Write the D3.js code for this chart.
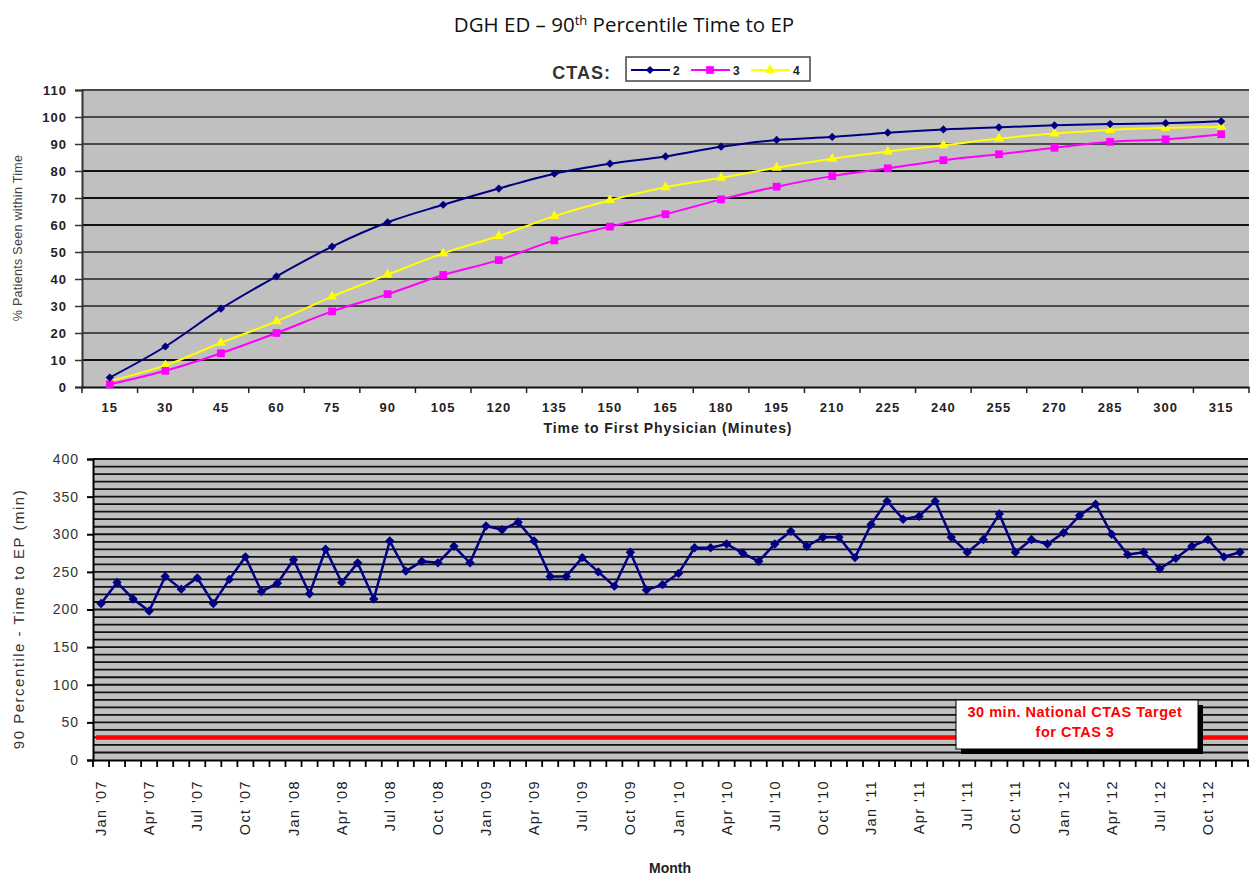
<!DOCTYPE html>
<html>
<head>
<meta charset="utf-8">
<script src="https://cdnjs.cloudflare.com/ajax/libs/d3/7.8.5/d3.min.js"></script>
<style>
    body { margin: 0; background: #fff; }
    svg { display: block; font-family: "Liberation Sans", Arial, sans-serif; }
</style>
</head>
<body>
<div id="graph"></div>
<script>
    // top chart: cumulative % seen within time, by CTAS level
    const minutes = [15, 30, 45, 60, 75, 90, 105, 120, 135, 150, 165, 180, 195, 210, 225, 240, 255, 270, 285, 300, 315];
    const ctas2 = [3.5, 15, 29, 41, 52, 61, 67.5, 73.5, 79, 82.7, 85.4, 89, 91.5, 92.6, 94.2, 95.4, 96.2, 96.9, 97.4, 97.7, 98.4];
    const ctas3 = [1, 6, 12.5, 20, 28, 34.4, 41.5, 47, 54.3, 59.4, 64, 69.5, 74.2, 78.1, 81, 84, 86.2, 88.6, 90.8, 91.7, 93.6];
    const ctas4 = [2.2, 8, 16.4, 24.3, 33.5, 41.6, 49.5, 55.9, 63.3, 69.2, 74, 77.5, 81.2, 84.5, 87.2, 89.5, 92, 93.9, 95.2, 96, 96.4];
    const pctTicks = [0, 10, 20, 30, 40, 50, 60, 70, 80, 90, 100, 110];

    // bottom chart: monthly 90th percentile time to EP
    const monthNames = ['Jan', 'Feb', 'Mar', 'Apr', 'May', 'Jun', 'Jul', 'Aug', 'Sep', 'Oct', 'Nov', 'Dec'];
    const years = ['07', '08', '09', '10', '11', '12'];
    const ep90 = [
        208, 236, 214, 198, 244, 227, 242, 208, 240, 270, 224, 235,
        266, 221, 280, 236, 262, 214, 291, 251, 264, 262, 284, 262,
        311, 306, 316, 291, 244, 244, 269, 250, 231, 276, 226, 233,
        248, 282, 282, 287, 275, 264, 287, 304, 284, 296, 296, 269,
        313, 344, 320, 324, 344, 296, 276, 293, 327, 276, 293, 287,
        302, 325, 340, 300, 273, 276, 254, 268, 284, 293, 270, 276
    ];
    const epTicks = [0, 50, 100, 150, 200, 250, 300, 350, 400];
    const epGrid = [10, 20, 30, 40, 50, 60, 70, 80, 90, 100, 110, 120, 130, 140, 150, 160, 170, 180, 190, 200,
        210, 220, 230, 240, 250, 260, 270, 280, 290, 300, 310, 320, 330, 340, 350, 360, 370, 380, 390, 400];
    const target = 30;

    const months = [];
    years.forEach(function (y) {
        monthNames.forEach(function (m) { months.push(m + " '" + y); });
    });

    const w = 1250;
    const h = 878;

    const svg = d3.select('#graph')
        .append('svg')
        .attr('width', w)
        .attr('height', h);

    // a square turned 45deg, like the spreadsheet diamond marker
    const diamond = {
        draw: function (ctx, size) {
            const r = Math.sqrt(size / 2);
            ctx.moveTo(0, -r);
            ctx.lineTo(r, 0);
            ctx.lineTo(0, r);
            ctx.lineTo(-r, 0);
            ctx.closePath();
        }
    };

    // ---------- title ----------
    const title = svg.append('text')
        .attr('x', 624)
        .attr('y', 32)
        .attr('text-anchor', 'middle')
        .style('font-family', '"Open Sans", "Liberation Sans", sans-serif')
        .style('font-size', '20.5px')
        .attr('fill', '#111');
    title.append('tspan').text('DGH ED \u2013 90');
    title.append('tspan').attr('dy', -7).style('font-size', '13px').text('th');
    title.append('tspan').attr('dy', 7).text(' Percentile Time to EP');

    // ---------- top chart ----------
    const upper = { left: 82, right: 1249, top: 90, bottom: 387 };

    const xTop = d3.scaleBand()
        .domain(minutes)
        .range([upper.left, upper.right]);

    const yTop = d3.scaleLinear()
        .domain([0, 110])
        .range([upper.bottom, upper.top]);

    svg.append('rect')
        .attr('x', upper.left)
        .attr('y', upper.top)
        .attr('width', upper.right - upper.left)
        .attr('height', upper.bottom - upper.top)
        .attr('fill', '#c0c0c0');

    svg.append('g')
        .selectAll('line')
        .data(pctTicks.slice(1))
        .enter()
        .append('line')
        .attr('x1', upper.left)
        .attr('x2', upper.right)
        .attr('y1', (d) => yTop(d))
        .attr('y2', (d) => yTop(d))
        .attr('stroke', (d) => (d == 10 || (d >= 60 && d <= 80)) ? '#111' : '#4a4a4a')
        .attr('stroke-width', 1.8);

    const yAxisTop = d3.axisLeft(yTop)
        .tickValues(pctTicks)
        .tickSize(7)
        .tickPadding(8);

    const gyTop = svg.append('g')
        .attr('transform', 'translate(' + upper.left + ',0)')
        .call(yAxisTop);
    gyTop.select('.domain').attr('stroke', '#333').attr('stroke-width', 2);
    gyTop.selectAll('.tick line').attr('stroke', '#333').attr('stroke-width', 1.5);
    gyTop.selectAll('.tick text')
        .style('font-size', '13px')
        .style('font-weight', 'bold')
        .style('letter-spacing', '1px')
        .attr('fill', '#222');

    const xAxisTop = d3.axisBottom(xTop)
        .tickSize(0)
        .tickPadding(16);

    const gxTop = svg.append('g')
        .attr('transform', 'translate(0,' + upper.bottom + ')')
        .call(xAxisTop);
    gxTop.select('.domain').attr('stroke', '#111').attr('stroke-width', 2);
    gxTop.selectAll('.tick text')
        .style('font-size', '13px')
        .style('font-weight', 'bold')
        .style('letter-spacing', '1px')
        .attr('fill', '#222');

    svg.append('g')
        .selectAll('line')
        .data(minutes.map((d) => xTop(d)).concat([upper.right]))
        .enter()
        .append('line')
        .attr('x1', (d) => d)
        .attr('x2', (d) => d)
        .attr('y1', upper.bottom)
        .attr('y2', upper.bottom + 6)
        .attr('stroke', '#222')
        .attr('stroke-width', 1.5);

    const series = [
        { name: '2', values: ctas2, color: '#000080', symbol: diamond, size: 34 },
        { name: '3', values: ctas3, color: '#ff00ff', symbol: d3.symbolSquare, size: 60 },
        { name: '4', values: ctas4, color: '#ffff00', symbol: d3.symbolTriangle, size: 45 }
    ];

    const lineTop = d3.line()
        .x((d, i) => xTop(minutes[i]) + xTop.bandwidth() / 2)
        .y((d) => yTop(d))
        .curve(d3.curveMonotoneX);

    series.slice().reverse().forEach(function (s) {
        svg.append('path')
            .datum(s.values)
            .attr('fill', 'none')
            .attr('stroke', s.color)
            .attr('stroke-width', 2)
            .attr('d', lineTop);

        svg.append('g')
            .selectAll('path')
            .data(s.values)
            .enter()
            .append('path')
            .attr('transform', (d, i) => 'translate(' + (xTop(minutes[i]) + xTop.bandwidth() / 2) + ',' + yTop(d) + ')')
            .attr('d', d3.symbol().type(s.symbol).size(s.size))
            .attr('fill', s.color);
    });

    svg.append('text')
        .attr('x', 668)
        .attr('y', 433)
        .attr('text-anchor', 'middle')
        .style('font-size', '14px')
        .style('font-weight', 'bold')
        .style('letter-spacing', '0.9px')
        .attr('fill', '#222')
        .text('Time to First Physician (Minutes)');

    svg.append('text')
        .attr('transform', 'translate(22,238) rotate(-90)')
        .attr('text-anchor', 'middle')
        .style('font-size', '12.5px')
        .style('letter-spacing', '0.3px')
        .attr('fill', '#444')
        .text('% Patients Seen within Time');

    // legend
    svg.append('text')
        .attr('x', 611)
        .attr('y', 79)
        .attr('text-anchor', 'end')
        .style('font-size', '18px')
        .style('font-weight', 'bold')
        .style('letter-spacing', '1px')
        .attr('fill', '#333')
        .text('CTAS:');

    svg.append('rect')
        .attr('x', 626)
        .attr('y', 57)
        .attr('width', 184)
        .attr('height', 24)
        .attr('fill', '#fff')
        .attr('stroke', '#444')
        .attr('stroke-width', 1.5);

    const legend = svg.selectAll('.legend')
        .data(series)
        .enter()
        .append('g')
        .attr('class', 'legend')
        .attr('transform', (d, i) => 'translate(' + (631 + i * 60) + ',70)');

    legend.append('line')
        .attr('x1', 0)
        .attr('x2', 39)
        .attr('stroke', (d) => d.color)
        .attr('stroke-width', 2);

    legend.append('path')
        .attr('transform', 'translate(19,0)')
        .attr('d', (d) => d3.symbol().type(d.symbol).size(d.size)())
        .attr('fill', (d) => d.color);

    legend.append('text')
        .attr('x', 42)
        .attr('y', 4.5)
        .style('font-size', '12px')
        .style('font-weight', 'bold')
        .attr('fill', '#222')
        .text((d) => d.name);

    // ---------- bottom chart ----------
    const lower = { left: 93, right: 1248, top: 459, bottom: 760 };

    const xBot = d3.scaleBand()
        .domain(months)
        .range([lower.left, lower.right]);

    const yBot = d3.scaleLinear()
        .domain([0, 400])
        .range([lower.bottom, lower.top]);

    svg.append('rect')
        .attr('x', lower.left)
        .attr('y', lower.top)
        .attr('width', lower.right - lower.left)
        .attr('height', lower.bottom - lower.top)
        .attr('fill', '#c0c0c0');

    svg.append('g')
        .selectAll('line')
        .data(epGrid)
        .enter()
        .append('line')
        .attr('x1', lower.left)
        .attr('x2', lower.right)
        .attr('y1', (d) => yBot(d))
        .attr('y2', (d) => yBot(d))
        .attr('stroke', '#111')
        .attr('stroke-width', 1.8);

    // target line
    svg.append('line')
        .attr('x1', lower.left + 3)
        .attr('x2', lower.right)
        .attr('y1', yBot(target))
        .attr('y2', yBot(target))
        .attr('stroke', '#ff0000')
        .attr('stroke-width', 4.5);

    const yAxisBot = d3.axisLeft(yBot)
        .tickValues(epTicks)
        .tickSize(6)
        .tickPadding(8);

    const gyBot = svg.append('g')
        .attr('transform', 'translate(' + lower.left + ',0)')
        .call(yAxisBot);
    gyBot.select('.domain').attr('stroke', '#000').attr('stroke-width', 2);
    gyBot.selectAll('.tick line').attr('stroke', '#000').attr('stroke-width', 2);
    gyBot.selectAll('.tick text')
        .style('font-size', '14px')
        .style('letter-spacing', '1px')
        .attr('fill', '#333');

    const xAxisBot = d3.axisBottom(xBot)
        .tickSize(0)
        .tickValues(months.filter((d, i) => i % 3 == 0));

    const gxBot = svg.append('g')
        .attr('transform', 'translate(0,' + lower.bottom + ')')
        .call(xAxisBot);
    gxBot.select('.domain').attr('stroke', '#000').attr('stroke-width', 2);
    gxBot.selectAll('.tick text')
        .attr('transform', 'rotate(-90)')
        .attr('text-anchor', 'end')
        .attr('x', -20)
        .attr('y', 0)
        .attr('dy', '0.35em')
        .style('font-size', '14.5px')
        .style('letter-spacing', '1.4px')
        .attr('fill', '#222');

    svg.append('g')
        .selectAll('line')
        .data(months.map((d) => xBot(d)).concat([lower.right]))
        .enter()
        .append('line')
        .attr('x1', (d) => d)
        .attr('x2', (d) => d)
        .attr('y1', lower.bottom)
        .attr('y2', lower.bottom + 7)
        .attr('stroke', '#000')
        .attr('stroke-width', 1.8);

    const lineBot = d3.line()
        .x((d, i) => xBot(months[i]) + xBot.bandwidth() / 2)
        .y((d) => yBot(d));

    svg.append('path')
        .datum(ep90)
        .attr('fill', 'none')
        .attr('stroke', '#000080')
        .attr('stroke-width', 2.5)
        .attr('d', lineBot);

    svg.append('g')
        .selectAll('path')
        .data(ep90)
        .enter()
        .append('path')
        .attr('transform', (d, i) => 'translate(' + (xBot(months[i]) + xBot.bandwidth() / 2) + ',' + yBot(d) + ')')
        .attr('d', d3.symbol().type(diamond).size(44))
        .attr('fill', '#000080');

    // target annotation
    svg.append('rect')
        .attr('x', 961)
        .attr('y', 705)
        .attr('width', 242)
        .attr('height', 49)
        .attr('fill', '#000');

    svg.append('rect')
        .attr('x', 956)
        .attr('y', 700)
        .attr('width', 242)
        .attr('height', 49)
        .attr('fill', '#fff')
        .attr('stroke', '#000')
        .attr('stroke-width', 1);

    svg.append('text')
        .attr('x', 1075)
        .attr('y', 717)
        .attr('text-anchor', 'middle')
        .style('font-size', '14.5px')
        .style('font-weight', 'bold')
        .style('letter-spacing', '0.5px')
        .attr('fill', '#ff0000')
        .text('30 min. National CTAS Target');

    svg.append('text')
        .attr('x', 1075)
        .attr('y', 737)
        .attr('text-anchor', 'middle')
        .style('font-size', '14.5px')
        .style('font-weight', 'bold')
        .style('letter-spacing', '0.5px')
        .attr('fill', '#ff0000')
        .text('for CTAS 3');

    svg.append('text')
        .attr('transform', 'translate(24,619) rotate(-90)')
        .attr('text-anchor', 'middle')
        .style('font-size', '15px')
        .style('letter-spacing', '1.5px')
        .attr('fill', '#333')
        .text('90 Percentile - Time to EP (min)');

    svg.append('text')
        .attr('x', 670)
        .attr('y', 873)
        .attr('text-anchor', 'middle')
        .style('font-size', '14px')
        .style('font-weight', 'bold')
        .attr('fill', '#222')
        .text('Month');
</script>
</body>
</html>
